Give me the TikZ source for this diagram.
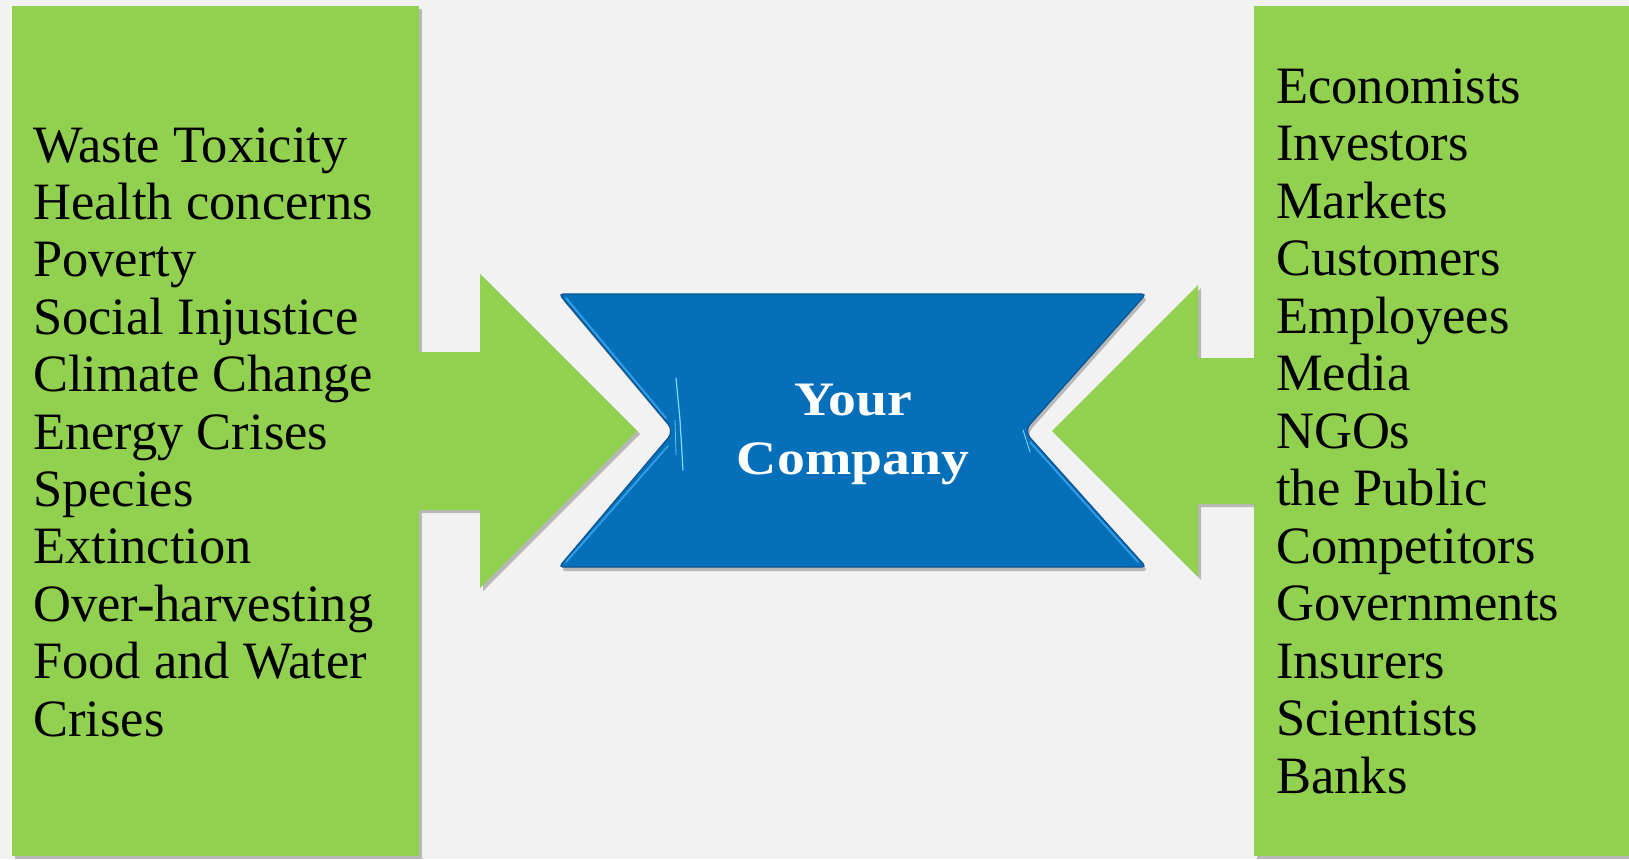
\documentclass[tikz,border=0pt]{standalone}
\usepackage{fontspec}
\setmainfont{Liberation Serif}
\newfontfamily\listfont{Liberation Serif}
\newfontfamily\titlefont[FakeStretch=1.16]{Liberation Serif}
\usetikzlibrary{shadows}
\definecolor{bgcol}{HTML}{F2F2F2}
\definecolor{greencol}{HTML}{92D050}
\definecolor{bluecol}{HTML}{066FBA}
\definecolor{bluedark}{HTML}{0A5590}
\definecolor{bluelight}{HTML}{3FA6EE}
\definecolor{glint}{HTML}{8FE6FF}
\tikzset{
  softshadow/.style={drop shadow={shadow xshift=3pt, shadow yshift=-3pt, opacity=.35, fill=black!70}},
  greenshape/.style={fill=greencol, draw=none, softshadow},
  listtxt/.style={anchor=base west, inner sep=0pt, text=black, font=\listfont\fontsize{52.5}{57.5}\selectfont},
  titletxt/.style={anchor=base, inner sep=0pt, text=white, font=\titlefont\bfseries\fontsize{48}{60}\selectfont},
}
\begin{document}
\begin{tikzpicture}[x=1pt,y=-1pt]
\useasboundingbox (0,0) rectangle (1629,859);
\fill[bgcol] (0,0) rectangle (1629,859);
% panels
\path[greenshape] (12,6) rectangle (419,856);
\path[greenshape] (1254,6) rectangle (1640,856);
% arrows
\path[greenshape] (419,352) -- (480,352) -- (480,274) -- (637,431) -- (480,588) -- (480,510) -- (419,510) -- cycle;
\path[greenshape] (1254,358) -- (1198,358) -- (1198,285) -- (1052,431) -- (1198,577) -- (1198,504) -- (1254,504) -- cycle;
% redraw panel parts to hide arrow shadows over panels
\fill[greencol] (12,6) rectangle (419,856);
\fill[greencol] (1254,6) rectangle (1640,856);
\fill[greencol] (410,352) rectangle (481,510);
\fill[greencol] (1197,358) rectangle (1262,504);
% central shape
\path[fill=bluecol, draw=bluedark, line width=1.2pt, drop shadow={shadow xshift=2pt, shadow yshift=-4pt, opacity=.35, fill=black!70}]
  [rounded corners=4pt] (559,294) -- (1146,294)
  [rounded corners=9pt] -- (1024,431)
  [rounded corners=4pt] -- (1146,567) -- (559,567)
  [rounded corners=9pt] -- (674,431)
  [rounded corners=4pt] -- cycle;
\draw[bluelight, line width=2pt, opacity=.8, line cap=round] (566,298) -- (666,418);
\draw[bluelight, line width=2pt, opacity=.8, line cap=round] (668,446) -- (566,562);
\draw[bluelight, line width=2pt, opacity=.8, line cap=round] (1030,442) -- (1138,562);
\draw[glint, line width=1.2pt, opacity=.9, line cap=round] (676,378) -- (680,420) -- (683,470);
\draw[glint, line width=.8pt, opacity=.7, line cap=round] (675,420) -- (676,455);
\draw[glint, line width=1pt, opacity=.8, line cap=round] (1023,430) -- (1030,452);
% title
\node[titletxt] (t1) at (853,415) {Your};
\node[titletxt] (t2) at (853,474) {Company};
% left list
\foreach \t [count=\i] in {Waste Toxicity, Health concerns, Poverty, Social Injustice, Climate Change, Energy Crises, Species, Extinction, Over-harvesting, Food and Water, Crises}
  \node[listtxt] (L\i) at (33,{162+(\i-1)*57.4}) {\t};
% right list
\foreach \t [count=\i] in {Economists, Investors, Markets, Customers, Employees, Media, NGOs, the Public, Competitors, Governments, Insurers, Scientists, Banks}
  \node[listtxt] (R\i) at (1276,{103+(\i-1)*57.5}) {\t};
\end{tikzpicture}
\end{document}
